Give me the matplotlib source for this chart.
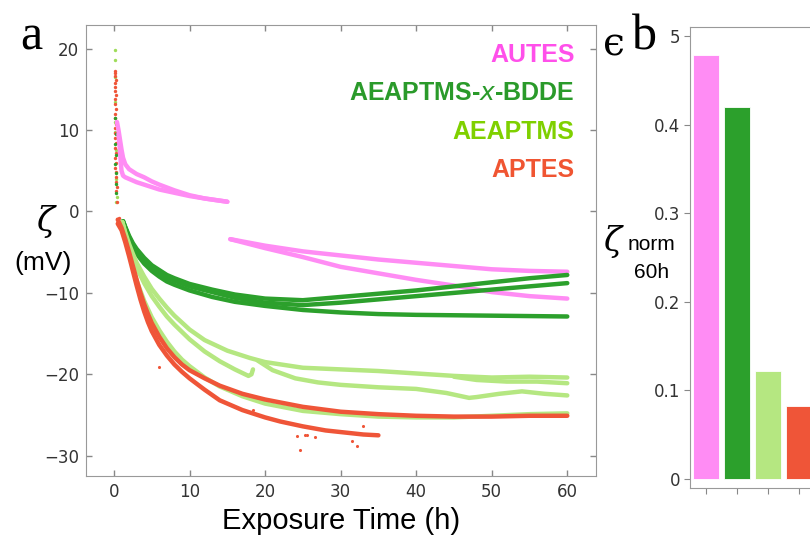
import numpy as np
import matplotlib
matplotlib.use("Agg")
import matplotlib.pyplot as plt

# zeta potential vs exposure time, one list pair per run
autes_runs = [
    ([0.4, 0.6, 0.8, 1.0, 1.2, 1.5, 2, 3, 4, 5, 6, 8, 10, 12, 15],
     [11.0, 10.0, 8.8, 7.6, 6.6, 5.8, 5.2, 4.6, 4.2, 3.7, 3.3, 2.6, 2.0, 1.6, 1.2]),
    ([0.6, 0.8, 0.9, 1.0, 1.2, 1.5, 2, 3, 4, 6, 8, 10, 12, 15],
     [9.5, 7.5, 6.0, 5.0, 4.4, 4.2, 4.0, 3.6, 3.3, 2.7, 2.3, 1.9, 1.6, 1.2]),
    ([15.4, 20, 25, 30, 35, 40, 45, 50, 55, 60],
     [-3.4, -4.2, -4.9, -5.4, -5.9, -6.3, -6.7, -7.1, -7.3, -7.4]),
    ([15.4, 20, 25, 30, 35, 40, 45, 50, 55, 60],
     [-3.4, -4.5, -5.6, -6.8, -7.6, -8.4, -9.1, -9.9, -10.4, -10.7]),
]
bdde_runs = [
    ([1.2, 1.5, 2, 2.5, 3, 4, 5, 6, 7, 8, 10, 13, 16, 20, 25, 30, 35, 40, 45, 50, 55, 60],
     [-1.2, -1.9, -3.0, -3.9, -4.6, -5.7, -6.6, -7.2, -7.8, -8.2, -8.9, -9.6, -10.2, -10.7, -10.9, -10.5, -10.1, -9.7, -9.2, -8.7, -8.2, -7.8]),
    ([1.2, 1.5, 2, 2.5, 3, 4, 5, 6, 7, 8, 10, 13, 16, 20, 25, 30, 35, 40, 45, 50, 55, 60],
     [-1.2, -2.0, -3.2, -4.1, -4.9, -6.0, -6.9, -7.5, -8.1, -8.5, -9.2, -9.9, -10.6, -11.2, -11.5, -11.2, -10.8, -10.4, -10.0, -9.6, -9.2, -8.8]),
    ([1.2, 1.5, 2, 2.5, 3, 4, 5, 6, 7, 8, 10, 13, 16, 20, 25, 30, 35, 40, 50, 60],
     [-1.2, -2.1, -3.4, -4.4, -5.2, -6.4, -7.3, -8.0, -8.6, -9.0, -9.7, -10.5, -11.1, -11.6, -12.1, -12.4, -12.6, -12.7, -12.8, -12.9]),
]
aeaptms_runs = [
    ([1.1, 1.5, 2, 2.5, 3, 4, 5, 6, 7, 8, 10, 12, 15, 18, 20, 25, 30, 35, 40, 45, 50, 55, 60],
     [-1.3, -2.6, -4.0, -5.2, -6.3, -8.0, -9.5, -10.7, -11.8, -12.8, -14.5, -15.8, -17.1, -18.0, -18.5, -19.2, -19.4, -19.6, -19.9, -20.2, -20.4, -20.3, -20.4]),
    ([1.1, 1.5, 2, 2.5, 3, 4, 5, 6, 7, 8, 10, 12, 14, 16, 17.8, 18.2, 18.4],
     [-1.3, -2.8, -4.4, -5.7, -6.9, -8.8, -10.4, -11.7, -12.9, -13.9, -15.7, -17.2, -18.4, -19.4, -20.2, -20.0, -19.4]),
    ([19, 21, 24, 27, 30, 35, 40, 44, 47, 48, 51, 54, 57, 60],
     [-18.3, -19.5, -20.5, -21.0, -21.3, -21.6, -21.8, -22.3, -22.9, -22.8, -22.4, -22.1, -22.4, -22.6]),
    ([45, 48, 52, 56, 60],
     [-20.3, -20.7, -20.9, -20.9, -21.1]),
    ([1.1, 1.5, 2, 2.5, 3, 4, 5, 6, 7, 8, 9, 10, 12, 14, 17, 20, 25, 30, 35, 40, 45, 50, 55, 60],
     [-1.3, -3.0, -5.0, -6.8, -8.5, -11.0, -13.0, -14.6, -16.0, -17.2, -18.2, -19.0, -20.4, -21.5, -22.7, -23.6, -24.5, -24.9, -25.2, -25.3, -25.3, -25.1, -24.9, -24.8]),
]
aptes_runs = [
    ([0.5, 1, 1.5, 2, 2.5, 3, 3.5, 4, 4.5, 5, 6, 7, 8, 9, 10, 12, 14, 17, 20, 25, 30, 35, 40, 45, 50, 55, 60],
     [-1.0, -2.0, -3.4, -5.0, -6.7, -8.4, -10.0, -11.4, -12.6, -13.7, -15.4, -16.8, -17.9, -18.8, -19.5, -20.5, -21.4, -22.4, -23.1, -24.0, -24.6, -24.9, -25.1, -25.2, -25.2, -25.1, -25.1]),
    ([0.5, 1, 1.5, 2, 2.5, 3, 3.5, 4, 4.5, 5, 6, 7, 8, 9, 10, 12, 14, 17, 20, 22, 25, 28, 30, 33, 35],
     [-1.5, -2.3, -3.8, -5.5, -7.3, -9.1, -10.8, -12.3, -13.6, -14.7, -16.4, -17.7, -18.8, -19.7, -20.5, -21.9, -23.2, -24.4, -25.3, -25.8, -26.4, -26.9, -27.1, -27.4, -27.5]),
]

# early readings right after immersion
aeaptms_t0 = [0.1, 0.1, 0.2, 0.2, 0.2, 0.2, 0.3, 0.3, 0.35, 0.3]
aeaptms_z0 = [19.9, 18.6, 16.5, 13.5, 11.0, 9.8, 7.5, 4.0, 1.8, 1.2]
aptes_t0 = [0.15, 0.2, 0.1, 0.25, 0.15, 0.2, 0.1, 0.25, 0.15, 0.2, 0.3, 0.15, 0.2, 0.25,
            0.1, 0.2, 0.15, 0.3, 0.2, 0.25, 0.15, 0.3, 0.2, 0.25, 0.3, 0.25, 0.35, 0.3, 0.4, 0.6, 0.7]
aptes_z0 = [17.3, 17.0, 16.6, 16.2, 15.8, 15.3, 14.8, 14.3, 13.8, 13.2, 12.6, 12.0, 11.5, 10.8,
            10.2, 9.6, 9.0, 8.4, 7.8, 7.2, 6.6, 6.0, 5.4, 4.8, 4.2, 3.6, 3.0, 2.5, 1.2, -0.8, -1.8]
bdde_t0 = [0.2, 0.25, 0.2, 0.25, 0.2, 0.3, 0.25, 0.3]
bdde_z0 = [11.5, 9.5, 8.3, 7.0, 5.8, 4.7, 3.4, 2.3]
aptes_out_t = [6.0, 18.4, 24.6, 24.2, 25.3, 33.0, 31.5, 32.2, 26.6, 25.5]
aptes_out_z = [-19.1, -24.4, -29.3, -27.6, -27.4, -26.4, -28.2, -28.8, -27.7, -27.4]

names = ["AUTES", "AEAPTMS-$\\mathit{x}$-BDDE", "AEAPTMS", "APTES"]
zeta_norm_60h = [0.479, 0.42, 0.122, 0.082]

line_colors = ["#ff8cf4", "#2ca02c", "#b5e781", "#ef5538"]
text_colors = ["#ff50ea", "#2a9a2a", "#7fd000", "#f05532"]

fig = plt.figure(figsize=(8.1, 5.4), dpi=100)
ax = fig.add_axes([0.1062, 0.1185, 0.6296, 0.835])

for runs, c in zip([autes_runs, bdde_runs, aeaptms_runs, aptes_runs], line_colors):
    for t, z in runs:
        ax.plot(t, z, color=c, lw=3.2, solid_capstyle="round", solid_joinstyle="round")

ax.scatter(aptes_out_t, aptes_out_z, s=5, color=line_colors[3], lw=0)
ax.scatter(aeaptms_t0, aeaptms_z0, s=6, color="#9fdc5a", lw=0)
ax.scatter(aptes_t0, aptes_z0, s=6, color=line_colors[3], lw=0)
ax.scatter(bdde_t0, bdde_z0, s=6, color=line_colors[1], lw=0)

ax.set_xlim(-3.7, 63.8)
ax.set_ylim(-32.5, 22.9)
ax.set_xticks(range(0, 61, 10))
ax.set_yticks(range(-30, 21, 10))
ax.tick_params(direction="in", top=True, right=True, length=4, width=1,
               color="#888888", labelsize=12, labelcolor="#333333", pad=5)
for sp in ax.spines.values():
    sp.set_color("#999999")
ax.set_xlabel("Exposure Time (h)", fontsize=21, family="Liberation Sans", labelpad=4)

for i, (name, c) in enumerate(zip(names, text_colors)):
    ax.text(0.958, 0.933 - i * 0.0845, name, transform=ax.transAxes, ha="right", va="center",
            fontsize=18, fontweight="bold", color=c, family="Liberation Sans")

fig.text(20 / 810, 1 - 50 / 540, "a", fontsize=36, family="Liberation Serif", va="baseline")
fig.text(45 / 810, 1 - 222 / 540, "ζ", fontsize=24, family="DejaVu Serif", style="italic",
         ha="center", va="center")
fig.text(43 / 810, 1 - 263 / 540, "(mV)", fontsize=19, family="Liberation Sans",
         ha="center", va="center")

# panel b: normalised zeta at 60 h
ax2 = fig.add_axes([0.8519, 0.0963, 0.2, 0.8537])
xs = [1, 2, 3, 4]
ax2.bar(xs, zeta_norm_60h, width=0.84, color=line_colors, edgecolor="white", lw=0.6)
ax2.set_xlim(0.48, 0.48 + 0.2 * 810 / 31)
ax2.set_ylim(-0.0102, 0.5103)
ax2.set_yticks([0, 0.1, 0.2, 0.3, 0.4, 0.5])
ax2.set_yticklabels(["0", "0.1", "0.2", "0.3", "0.4", "5"])
ax2.set_xticks(xs)
ax2.set_xticklabels([])
ax2.tick_params(direction="out", length=4, color="#888888", labelsize=12,
                labelcolor="#333333", pad=3)
for sp in ax2.spines.values():
    sp.set_color("#999999")

fig.text(632 / 810, 1 - 50 / 540, "b", fontsize=36, family="Liberation Serif", va="baseline")
fig.text(603 / 810, 1 - 45 / 540, "ϵ", fontsize=28, family="DejaVu Serif", va="center")
fig.text(612 / 810, 1 - 242 / 540, "ζ", fontsize=24, family="DejaVu Serif", style="italic",
         ha="center", va="center")
fig.text(651 / 810, 1 - 245 / 540, "norm", fontsize=15, family="Liberation Sans",
         ha="center", va="center")
fig.text(652 / 810, 1 - 272 / 540, "60h", fontsize=15, family="Liberation Sans",
         ha="center", va="center")

fig.savefig("out.png", dpi=100)
